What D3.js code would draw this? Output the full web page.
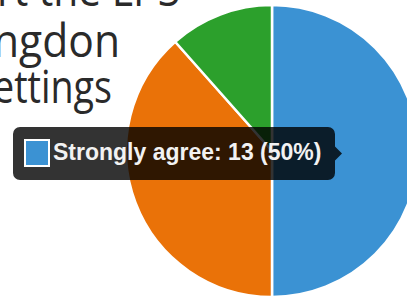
<!DOCTYPE html>
<html>
<head>
<meta charset="utf-8">
<script src="https://cdn.jsdelivr.net/npm/d3@7"></script>
<style>
    html, body { margin: 0; padding: 0; background: #fff; overflow: hidden; }
    svg { display: block; }
</style>
</head>
<body>
<svg id="chart" width="407" height="300"></svg>
<script>
// slice data (clockwise from 12 o'clock)
const categories = ["Strongly agree", "Agree", "Disagree"];
const values = [13, 10, 3];
const sliceColors = ["#3b92d3", "#ea7208", "#2ca02c"];

// heading text that is cut off on the left of the frame
const headingLines = ["rt the LPS", "ngdon", "ettings"];

// the slice the tooltip is showing
const hovered = 0;

const svg = d3.select("#chart");

// heading (narrower face than what we have installed, so squeeze it to fit)
const heading = svg.append("g")
    .attr("font-family", "'Open Sans', 'Noto Sans', sans-serif")
    .attr("font-size", 45)
    .attr("fill", "#2a2a2a");

const headingX = [-3, -7, -7];
const headingY = [6, 57, 103];
const headingW = [183, 127, 119];
headingLines.forEach((line, i) => {
    heading.append("text")
        .attr("x", headingX[i])
        .attr("y", headingY[i])
        .attr("textLength", headingW[i])
        .attr("lengthAdjust", "spacingAndGlyphs")
        .text(line);
});

// pie
const cx = 272, cy = 151, radius = 146;
const pie = d3.pie().sort(null).value(d => d);
const arc = d3.arc().innerRadius(0).outerRadius(radius);
const arcs = pie(values);

const pieG = svg.append("g").attr("transform", `translate(${cx},${cy})`);
pieG.selectAll("path")
    .data(arcs)
    .enter()
    .append("path")
    .attr("d", arc)
    .attr("fill", (d, i) => sliceColors[i])
    .attr("stroke", "#fff")
    .attr("stroke-width", 2.5)
    .attr("stroke-linejoin", "round");

// tooltip
const total = d3.sum(values);
const pct = Math.round(values[hovered] / total * 100);
const label = `${categories[hovered]}: ${values[hovered]} (${pct}%)`;

const tip = { x: 13, y: 127, w: 322, h: 53, r: 7, caret: 7 };
const tipPath = d3.path();
tipPath.moveTo(tip.x + tip.r, tip.y);
tipPath.lineTo(tip.x + tip.w - tip.r, tip.y);
tipPath.arcTo(tip.x + tip.w, tip.y, tip.x + tip.w, tip.y + tip.r, tip.r);
tipPath.lineTo(tip.x + tip.w, tip.y + tip.h / 2 - tip.caret);
tipPath.lineTo(tip.x + tip.w + tip.caret, tip.y + tip.h / 2);
tipPath.lineTo(tip.x + tip.w, tip.y + tip.h / 2 + tip.caret);
tipPath.lineTo(tip.x + tip.w, tip.y + tip.h - tip.r);
tipPath.arcTo(tip.x + tip.w, tip.y + tip.h, tip.x + tip.w - tip.r, tip.y + tip.h, tip.r);
tipPath.lineTo(tip.x + tip.r, tip.y + tip.h);
tipPath.arcTo(tip.x, tip.y + tip.h, tip.x, tip.y + tip.h - tip.r, tip.r);
tipPath.lineTo(tip.x, tip.y + tip.r);
tipPath.arcTo(tip.x, tip.y, tip.x + tip.r, tip.y, tip.r);
tipPath.closePath();

svg.append("path")
    .attr("d", tipPath.toString())
    .attr("fill", "rgba(0,0,0,0.8)");

svg.append("rect")
    .attr("x", 25)
    .attr("y", 140)
    .attr("width", 24)
    .attr("height", 26)
    .attr("fill", sliceColors[hovered])
    .attr("stroke", "#fff")
    .attr("stroke-width", 2);

svg.append("text")
    .attr("x", 53)
    .attr("y", 160)
    .attr("font-family", "'Liberation Sans', Arial, sans-serif")
    .attr("font-weight", "bold")
    .attr("font-size", 23)
    .attr("fill", "#f2f2f2")
    .text(label);
</script>
</body>
</html>
